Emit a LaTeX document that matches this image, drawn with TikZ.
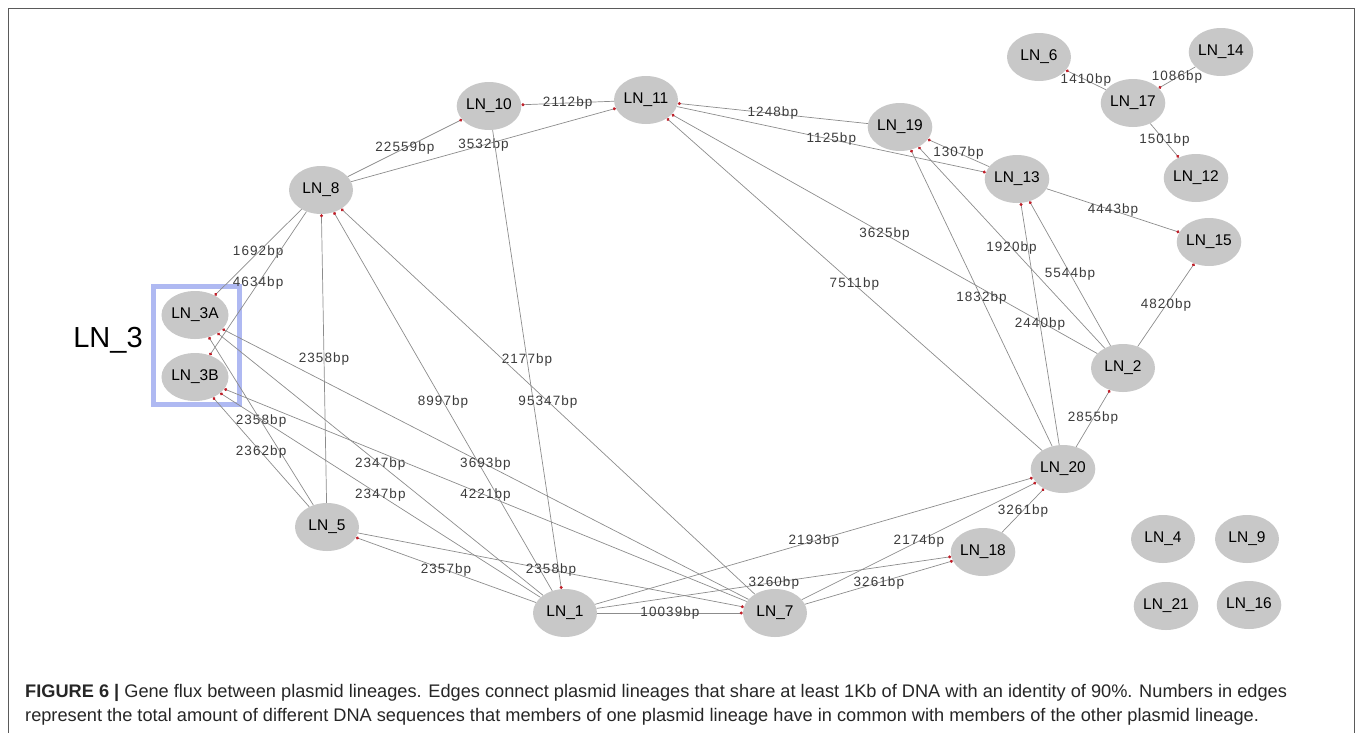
\documentclass[tikz,border=0pt]{standalone}
\usepackage{fontspec}
\setmainfont{Liberation Sans}
\newfontfamily\edgefont[LetterSpace=8]{Liberation Sans}
\usetikzlibrary{shapes.geometric,arrows.meta}
\definecolor{nodegray}{RGB}{200,200,200}
\definecolor{edgegray}{RGB}{140,140,140}
\definecolor{dotred}{RGB}{190,30,40}
\definecolor{boxblue}{RGB}{175,185,242}
\definecolor{txtgray}{RGB}{60,60,60}
\definecolor{framegray}{RGB}{90,90,90}

\begin{document}
\begin{tikzpicture}[x=1pt,y=-1pt,
  ln/.style={ellipse,fill=nodegray,minimum width=64pt,minimum height=48pt,inner sep=0pt,font=\fontsize{15.5}{16}\selectfont},
  gx/.style={draw=edgegray,line width=0.7pt,-{Circle[length=3pt,color=dotred]}},
  bp/.style={font=\edgefont\fontsize{13.5}{14}\selectfont,text=txtgray,inner sep=0pt},
  captxt/.style={anchor=base west,inner sep=0pt,font=\fontsize{18.2}{20}\selectfont,text=black!85}]
\useasboundingbox (0,0) rectangle (1357,732);
\draw[framegray,line width=1.5pt] (8.5,8.5) rectangle (1354.5,745);
\draw[boxblue,line width=5pt] (153.5,286.5) rectangle (239.5,404.5);
\node[font=\fontsize{29}{30}\selectfont] (ln3) at (108,340) {LN\_3};

\node[ln] (n3a) at (195,315) {LN\_3A};
\node[ln] (n3b) at (195,377) {LN\_3B};
\node[ln] (n8) at (321,190) {LN\_8};
\node[ln] (n10) at (489,106) {LN\_10};
\node[ln] (n11) at (646,100) {LN\_11};
\node[ln] (n19) at (900,127) {LN\_19};
\node[ln] (n13) at (1017,179) {LN\_13};
\node[ln] (n6) at (1039,57) {LN\_6};
\node[ln] (n14) at (1221,52) {LN\_14};
\node[ln] (n17) at (1133,103) {LN\_17};
\node[ln] (n12) at (1196,178) {LN\_12};
\node[ln] (n15) at (1209,242) {LN\_15};
\node[ln] (n2) at (1123,368) {LN\_2};
\node[ln] (n20) at (1063,469) {LN\_20};
\node[ln] (n18) at (983,552) {LN\_18};
\node[ln] (n5) at (327,527) {LN\_5};
\node[ln] (n1) at (565,613) {LN\_1};
\node[ln] (n7) at (775,613) {LN\_7};
\node[ln] (n4) at (1163,539) {LN\_4};
\node[ln] (n9) at (1247,539) {LN\_9};
\node[ln] (n21) at (1166,606) {LN\_21};
\node[ln] (n16) at (1249,605) {LN\_16};

\draw[gx] (n11) -- node[bp]{2112bp} (n10);
\draw[gx] (n8) -- node[bp]{22559bp} (n10);
\draw[gx] (n8) -- node[bp]{3532bp} (n11);
\draw[gx] (n10) -- node[bp]{2177bp} (n1);
\draw[gx] (n8) -- node[bp]{1692bp} (n3a);
\draw[gx] (n8) -- node[bp]{4634bp} (n3b);
\draw[gx] (n5) -- node[bp]{2358bp} (n8);
\draw[gx] (n1) -- node[bp]{8997bp} (n8);
\draw[gx] (n7) -- node[bp]{95347bp} (n8);
\draw[gx] (n5) -- node[bp]{2358bp} (n3a);
\draw[gx] (n5) -- node[bp]{2362bp} (n3b);
\draw[gx] (n1) -- node[bp]{2347bp} (n3a);
\draw[gx] (n1) -- node[bp]{2347bp} (n3b);
\draw[gx] (n7) -- node[bp]{3693bp} (n3a);
\draw[gx] (n7) -- node[bp]{4221bp} (n3b);
\draw[gx] (n1) -- node[bp]{2357bp} (n5);
\draw[gx] (n5) -- node[bp]{2358bp} (n7);
\draw[gx] (n1) -- node[bp]{10039bp} (n7);
\draw[gx] (n1) -- node[bp]{2193bp} (n20);
\draw[gx] (n1) -- node[bp]{3260bp} (n18);
\draw[gx] (n7) -- node[bp]{2174bp} (n20);
\draw[gx] (n7) -- node[bp]{3261bp} (n18);
\draw[gx] (n18) -- node[bp]{3261bp} (n20);
\draw[gx] (n20) -- node[bp]{2855bp} (n2);
\draw[gx] (n2) -- node[bp]{4820bp} (n15);
\draw[gx] (n13) -- node[bp]{4443bp} (n15);
\draw[gx] (n17) -- node[bp]{1410bp} (n6);
\draw[gx] (n14) -- node[bp]{1086bp} (n17);
\draw[gx] (n17) -- node[bp]{1501bp} (n12);
\draw[gx] (n19) -- node[bp]{1248bp} (n11);
\draw[gx] (n11) -- node[bp]{1125bp} (n13);
\draw[gx] (n13) -- node[bp]{1307bp} (n19);
\draw[gx] (n2) -- node[bp]{3625bp} (n11);
\draw[gx] (n20) -- node[bp]{7511bp} (n11);
\draw[gx] (n20) -- node[bp]{1832bp} (n19);
\draw[gx] (n2) -- node[bp]{1920bp} (n19);
\draw[gx] (n2) -- node[bp]{5544bp} (n13);
\draw[gx] (n20) -- node[bp]{2440bp} (n13);

\node[captxt] (cap1) at (25,697) {\textbf{FIGURE 6 |} Gene flux between plasmid lineages. Edges connect plasmid lineages that share at least 1Kb of DNA with an identity of 90\%. Numbers in edges};
\node[captxt] (cap2) at (25,721) {represent the total amount of different DNA sequences that members of one plasmid lineage have in common with members of the other plasmid lineage.};
\end{tikzpicture}
\end{document}
